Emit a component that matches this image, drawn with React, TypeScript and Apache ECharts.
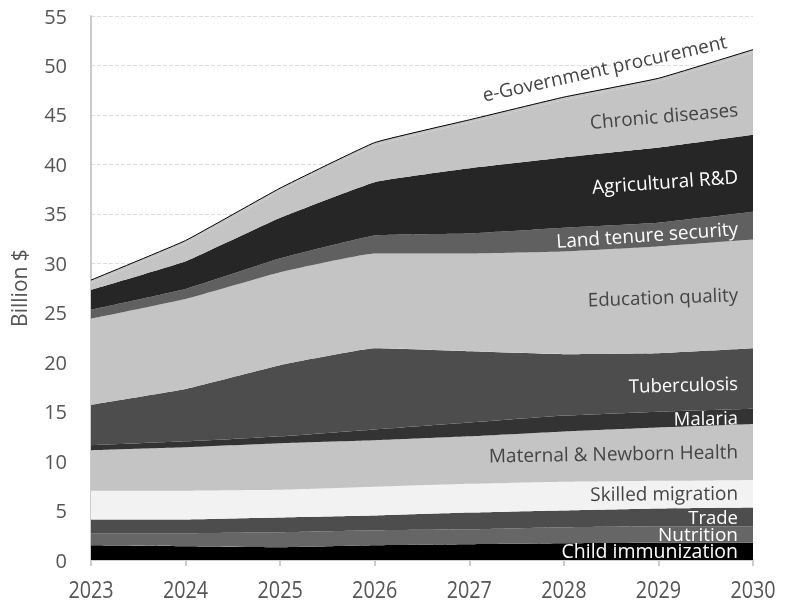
import React, { useEffect, useRef } from "react";
import * as echarts from "echarts";

const years = ["2023", "2024", "2025", "2026", "2027", "2028", "2029", "2030"];
const yTicks = [0, 55, 5];

const childImmunization = [1.5, 1.4, 1.3, 1.5, 1.6, 1.7, 1.75, 1.75];
const nutrition = [1.2, 1.3, 1.5, 1.5, 1.5, 1.6, 1.65, 1.65];
const trade = [1.4, 1.4, 1.5, 1.5, 1.7, 1.7, 1.8, 1.9];
const skilledMigration = [2.9, 2.9, 2.8, 2.9, 2.9, 2.9, 2.8, 2.8];
const maternalNewborn = [4.1, 4.4, 4.7, 4.7, 4.8, 5.1, 5.4, 5.65];
const malaria = [0.5, 0.6, 0.7, 1.1, 1.4, 1.6, 1.6, 1.55];
const tuberculosis = [4.1, 5.3, 7.2, 8.2, 7.2, 6.2, 5.9, 6.1];
const educationQuality = [8.7, 9.1, 9.4, 9.6, 9.9, 10.4, 10.8, 11.0];
const landTenure = [0.9, 1.0, 1.4, 1.8, 2.0, 2.4, 2.4, 2.8];
const agriculturalRD = [2.0, 2.8, 4.1, 5.4, 6.6, 7.1, 7.6, 7.8];
const chronicDiseases = [0.7, 1.8, 2.7, 3.7, 4.6, 5.8, 6.7, 8.3];
const eGovProcurement = [0.3, 0.3, 0.3, 0.3, 0.3, 0.3, 0.3, 0.3];

const seriesNames = [
  "Child immunization",
  "Nutrition",
  "Trade",
  "Skilled migration",
  "Maternal & Newborn Health",
  "Malaria",
  "Tuberculosis",
  "Education quality",
  "Land tenure security",
  "Agricultural R&D",
  "Chronic diseases",
  "e-Government procurement",
];
const seriesData = [
  childImmunization,
  nutrition,
  trade,
  skilledMigration,
  maternalNewborn,
  malaria,
  tuberculosis,
  educationQuality,
  landTenure,
  agriculturalRD,
  chronicDiseases,
  eGovProcurement,
];
const fills = [
  "#000000",
  "#666666",
  "#4d4d4d",
  "#f2f2f2",
  "#c4c4c4",
  "#333333",
  "#4d4d4d",
  "#c4c4c4",
  "#606060",
  "#262626",
  "#c4c4c4",
  "#c4c4c4",
];

// label styling: [fractional index of text centre, rotation deg, fontSize, colour, dy]
const labelStyle: [number, number, number, string, number][] = [
  [5.92, 0, 19.5, "#ffffff", -1],
  [6.4, 0, 19, "#ffffff", -1],
  [6.63, 0, 18.5, "#ffffff", -1],
  [6.05, 0.5, 19, "#444444", -2],
  [5.52, 1, 19, "#444444", -4],
  [6.51, 1, 18.5, "#ffffff", -1],
  [6.26, 1.5, 18.5, "#ffffff", 1],
  [6.03, 2, 18.7, "#444444", -6],
  [5.87, 4, 19, "#ffffff", -7],
  [6.06, 4, 19, "#ffffff", -8],
  [6.06, 5, 19, "#444444", -4],
  [5.43, 12.5, 19, "#444444", -21],
];

const FONT = "'Open Sans', 'Noto Sans', sans-serif";

export default function App() {
  const ref = useRef<HTMLDivElement>(null);
  useEffect(() => {
    if (!ref.current) return;
    const chart = echarts.init(ref.current, null, { renderer: "svg" });
    const series = seriesNames.map((name, i) => ({
      name,
      type: "line",
      stack: "total",
      data: seriesData[i],
      smooth: 0.1,
      symbol: "none",
      lineStyle:
        i === seriesNames.length - 1
          ? { color: "#000", width: 1 }
          : { width: 0 },
      areaStyle: { color: fills[i], opacity: 1 },
      emphasis: { disabled: true },
    }));
    chart.setOption({
      animation: false,
      grid: { left: 91, right: 32, top: 16, bottom: 45 },
      xAxis: {
        type: "category",
        data: years,
        boundaryGap: false,
        axisLine: { lineStyle: { color: "#cccccc", width: 2 } },
        axisTick: { show: true, length: 6, lineStyle: { color: "#cccccc", width: 2 } },
        axisLabel: { show: false },
        splitLine: { show: false },
      },
      yAxis: {
        type: "value",
        min: yTicks[0],
        max: yTicks[1],
        interval: yTicks[2],
        name: "Billion $",
        nameLocation: "middle",
        nameGap: 62,
        nameTextStyle: { color: "#555555", fontSize: 21, fontFamily: FONT },
        axisLine: { show: true, lineStyle: { color: "#cccccc", width: 2 } },
        axisTick: { show: false },
        axisLabel: { color: "#555555", fontSize: 20, margin: 24, fontFamily: FONT },
        splitLine: { lineStyle: { color: "#dddddd", type: "dashed", width: 1 } },
      },
      series,
    });

    // cumulative stacks
    const n = years.length;
    const cum: number[][] = [];
    let prev = new Array(n).fill(0);
    seriesData.forEach((d) => {
      const top = d.map((v, j) => prev[j] + v);
      cum.push(top);
      prev = top;
    });
    const interp = (arr: number[], t: number) => {
      const i0 = Math.min(Math.floor(t), n - 2);
      const f = t - i0;
      return arr[i0] * (1 - f) + arr[i0 + 1] * f;
    };
    const x0 = chart.convertToPixel({ xAxisIndex: 0 }, years[0]) as number;
    const x1 = chart.convertToPixel({ xAxisIndex: 0 }, years[n - 1]) as number;
    const yZero = chart.convertToPixel({ yAxisIndex: 0 }, 0) as number;
    const step = (x1 - x0) / (n - 1);
    const rightX = x1 - 15;
    const graphics: any[] = [];
    // year tick labels (condensed like the reference)
    years.forEach((yr, j) => {
      graphics.push({
        type: "text",
        x: x0 + j * step,
        y: yZero + 29,
        scaleX: 0.86,
        z: 100,
        style: {
          text: yr,
          fill: "#555555",
          font: `23px ${FONT}`,
          align: "center",
          verticalAlign: "middle",
        },
        silent: true,
      });
    });
    seriesNames.forEach((name, i) => {
      const [t, rot, fs, col, dy] = labelStyle[i];
      const top = interp(cum[i], t);
      const bottom = i === 0 ? 0 : interp(cum[i - 1], t);
      if (i === seriesNames.length - 1) {
        const cx = x0 + t * step;
        const ly = chart.convertToPixel({ yAxisIndex: 0 }, top) as number;
        graphics.push({
          type: "text",
          x: cx,
          y: ly + dy,
          z: 100,
          rotation: (rot * Math.PI) / 180,
          style: {
            text: name,
            fill: col,
            font: `${fs}px ${FONT}`,
            align: "center",
            verticalAlign: "middle",
          },
          silent: true,
        });
        return;
      }
      const mid = (top + bottom) / 2;
      const py = chart.convertToPixel({ yAxisIndex: 0 }, mid) as number;
      graphics.push({
        type: "text",
        x: rightX,
        y: py + dy,
        z: 100,
        rotation: (rot * Math.PI) / 180,
        style: {
          text: name,
          fill: col,
          font: `${fs}px ${FONT}`,
          align: "right",
          verticalAlign: "middle",
        },
        silent: true,
      });
    });
    chart.setOption({ graphic: graphics });
    return () => chart.dispose();
  }, []);
  return (
    <div
      ref={ref}
      style={{ position: "fixed", left: 0, top: 0, width: 785, height: 605 }}
    />
  );
}
